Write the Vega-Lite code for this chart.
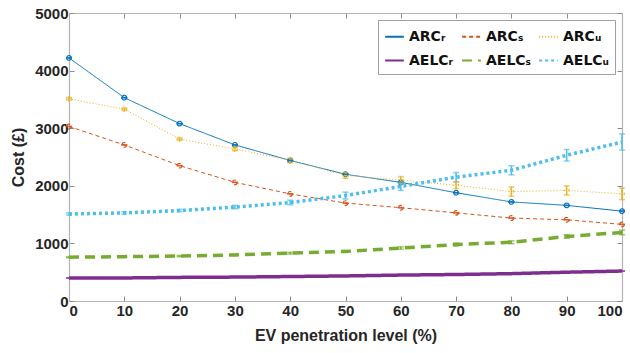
{
  "$schema": "https://vega.github.io/schema/vega-lite/v6.json",
  "width": 553,
  "height": 288,
  "autosize": {"type": "none"},
  "padding": {"left": 69, "top": 13, "right": 8, "bottom": 52},
  "background": "white",
  "config": {
    "view": {"stroke": null},
    "font": "Liberation Sans",
    "axis": {
      "grid": false,
      "domainColor": "#b4b4b4",
      "domainWidth": 1.2,
      "tickColor": "#8c8c8c",
      "tickSize": -5,
      "labelFont": "Liberation Sans",
      "labelFontWeight": "bold",
      "labelFontSize": 15,
      "labelColor": "#262626",
      "titleFont": "Liberation Sans",
      "titleFontWeight": "bold",
      "titleFontSize": 16,
      "titleColor": "#262626"
    },
    "legend": {
      "orient": "top-right",
      "offset": 7,
      "columns": 3,
      "strokeColor": "#a0a0a0",
      "fillColor": "white",
      "padding": 6,
      "labelFont": "DejaVu Sans",
      "labelFontWeight": "bold",
      "labelFontSize": 14,
      "labelColor": "#111",
      "symbolType": "stroke",
      "symbolSize": 350,
      "symbolStrokeWidth": 2,
      "columnPadding": 4,
      "rowPadding": 6
    }
  },
  "data": {
    "values": [
      {"x": 0, "series": "ARC_R", "value": 4220, "lo": 4220, "hi": 4220},
      {"x": 10, "series": "ARC_R", "value": 3530, "lo": 3530, "hi": 3530},
      {"x": 20, "series": "ARC_R", "value": 3080, "lo": 3080, "hi": 3080},
      {"x": 30, "series": "ARC_R", "value": 2710, "lo": 2710, "hi": 2710},
      {"x": 40, "series": "ARC_R", "value": 2440, "lo": 2440, "hi": 2440},
      {"x": 50, "series": "ARC_R", "value": 2200, "lo": 2200, "hi": 2200},
      {"x": 60, "series": "ARC_R", "value": 2060, "lo": 2060, "hi": 2060},
      {"x": 70, "series": "ARC_R", "value": 1880, "lo": 1880, "hi": 1880},
      {"x": 80, "series": "ARC_R", "value": 1720, "lo": 1720, "hi": 1720},
      {"x": 90, "series": "ARC_R", "value": 1660, "lo": 1660, "hi": 1660},
      {"x": 100, "series": "ARC_R", "value": 1560, "lo": 1560, "hi": 1560},
      {"x": 0, "series": "ARC_S", "value": 3030, "lo": 3030, "hi": 3030},
      {"x": 10, "series": "ARC_S", "value": 2710, "lo": 2710, "hi": 2710},
      {"x": 20, "series": "ARC_S", "value": 2350, "lo": 2350, "hi": 2350},
      {"x": 30, "series": "ARC_S", "value": 2060, "lo": 2060, "hi": 2060},
      {"x": 40, "series": "ARC_S", "value": 1860, "lo": 1860, "hi": 1860},
      {"x": 50, "series": "ARC_S", "value": 1700, "lo": 1700, "hi": 1700},
      {"x": 60, "series": "ARC_S", "value": 1620, "lo": 1620, "hi": 1620},
      {"x": 70, "series": "ARC_S", "value": 1530, "lo": 1530, "hi": 1530},
      {"x": 80, "series": "ARC_S", "value": 1440, "lo": 1440, "hi": 1440},
      {"x": 90, "series": "ARC_S", "value": 1410, "lo": 1410, "hi": 1410},
      {"x": 100, "series": "ARC_S", "value": 1330, "lo": 1330, "hi": 1330},
      {"x": 0, "series": "ARC_U", "value": 3510, "lo": 3490, "hi": 3530},
      {"x": 10, "series": "ARC_U", "value": 3330, "lo": 3310, "hi": 3350},
      {"x": 20, "series": "ARC_U", "value": 2810, "lo": 2790, "hi": 2830},
      {"x": 30, "series": "ARC_U", "value": 2640, "lo": 2610, "hi": 2670},
      {"x": 40, "series": "ARC_U", "value": 2440, "lo": 2400, "hi": 2480},
      {"x": 50, "series": "ARC_U", "value": 2180, "lo": 2130, "hi": 2230},
      {"x": 60, "series": "ARC_U", "value": 2100, "lo": 2040, "hi": 2160},
      {"x": 70, "series": "ARC_U", "value": 2010, "lo": 1950, "hi": 2070},
      {"x": 80, "series": "ARC_U", "value": 1900, "lo": 1820, "hi": 1980},
      {"x": 90, "series": "ARC_U", "value": 1920, "lo": 1840, "hi": 2000},
      {"x": 100, "series": "ARC_U", "value": 1860, "lo": 1760, "hi": 1960},
      {"x": 0, "series": "AELC_R", "value": 400, "lo": 400, "hi": 400},
      {"x": 10, "series": "AELC_R", "value": 400, "lo": 400, "hi": 400},
      {"x": 20, "series": "AELC_R", "value": 410, "lo": 410, "hi": 410},
      {"x": 30, "series": "AELC_R", "value": 415, "lo": 415, "hi": 415},
      {"x": 40, "series": "AELC_R", "value": 425, "lo": 425, "hi": 425},
      {"x": 50, "series": "AELC_R", "value": 435, "lo": 435, "hi": 435},
      {"x": 60, "series": "AELC_R", "value": 450, "lo": 450, "hi": 450},
      {"x": 70, "series": "AELC_R", "value": 460, "lo": 460, "hi": 460},
      {"x": 80, "series": "AELC_R", "value": 475, "lo": 475, "hi": 475},
      {"x": 90, "series": "AELC_R", "value": 500, "lo": 500, "hi": 500},
      {"x": 100, "series": "AELC_R", "value": 520, "lo": 520, "hi": 520},
      {"x": 0, "series": "AELC_S", "value": 760, "lo": 750, "hi": 770},
      {"x": 10, "series": "AELC_S", "value": 770, "lo": 760, "hi": 780},
      {"x": 20, "series": "AELC_S", "value": 780, "lo": 770, "hi": 790},
      {"x": 30, "series": "AELC_S", "value": 800, "lo": 790, "hi": 810},
      {"x": 40, "series": "AELC_S", "value": 830, "lo": 815, "hi": 845},
      {"x": 50, "series": "AELC_S", "value": 860, "lo": 845, "hi": 875},
      {"x": 60, "series": "AELC_S", "value": 920, "lo": 900, "hi": 940},
      {"x": 70, "series": "AELC_S", "value": 980, "lo": 955, "hi": 1005},
      {"x": 80, "series": "AELC_S", "value": 1020, "lo": 995, "hi": 1045},
      {"x": 90, "series": "AELC_S", "value": 1120, "lo": 1090, "hi": 1150},
      {"x": 100, "series": "AELC_S", "value": 1190, "lo": 1150, "hi": 1230},
      {"x": 0, "series": "AELC_U", "value": 1510, "lo": 1490, "hi": 1530},
      {"x": 10, "series": "AELC_U", "value": 1530, "lo": 1510, "hi": 1550},
      {"x": 20, "series": "AELC_U", "value": 1570, "lo": 1550, "hi": 1590},
      {"x": 30, "series": "AELC_U", "value": 1630, "lo": 1600, "hi": 1660},
      {"x": 40, "series": "AELC_U", "value": 1710, "lo": 1670, "hi": 1750},
      {"x": 50, "series": "AELC_U", "value": 1830, "lo": 1770, "hi": 1890},
      {"x": 60, "series": "AELC_U", "value": 1990, "lo": 1920, "hi": 2060},
      {"x": 70, "series": "AELC_U", "value": 2150, "lo": 2070, "hi": 2230},
      {"x": 80, "series": "AELC_U", "value": 2270, "lo": 2190, "hi": 2350},
      {"x": 90, "series": "AELC_U", "value": 2530, "lo": 2430, "hi": 2630},
      {"x": 100, "series": "AELC_U", "value": 2760, "lo": 2620, "hi": 2900}
    ]
  },
  "resolve": {"axis": {"x": "independent", "y": "independent"}},
  "encoding": {
    "x": {"field": "x", "type": "quantitative", "scale": {"domain": [0, 100], "nice": false}},
    "color": {
      "field": "series", "type": "nominal",
      "scale": {
        "domain": ["ARC_R", "AELC_R", "ARC_S", "AELC_S", "ARC_U", "AELC_U"],
        "range": ["#0072BD", "#7E2F8E", "#D95319", "#77AC30", "#EDB120", "#4DBEEE"]
      },
      "legend": {
        "title": null,
        "labelExpr": "replace(replace(replace(datum.label, '_R', 'ᵣ'), '_S', 'ₛ'), '_U', 'ᵤ')"
      }
    }
  },
  "layer": [
    {
      "transform": [{"filter": "indexof(datum.series, 'ARC') === 0"}],
      "mark": {"type": "line", "strokeWidth": 1, "point": {"filled": false, "size": 22, "strokeWidth": 1.2}},
      "encoding": {
        "x": {"field": "x", "type": "quantitative", "title": "EV penetration level (%)",
              "axis": {"orient": "bottom", "values": [0,10,20,30,40,50,60,70,80,90,100], "format": "d", "labelPadding": 7, "titlePadding": 9}},
        "y": {"field": "value", "type": "quantitative", "title": "Cost (£)",
              "scale": {"domain": [0, 5000], "nice": false},
              "axis": {"orient": "left", "values": [0,1000,2000,3000,4000,5000], "format": "d", "labelPadding": 6, "titlePadding": 8}},
        "strokeDash": {
          "field": "series", "type": "nominal",
          "scale": {
            "domain": ["ARC_R", "AELC_R", "ARC_S", "AELC_S", "ARC_U", "AELC_U"],
            "range": [[1, 0], [1, 0], [4, 3], [10, 6], [1, 2], [3, 3]]
          },
          "legend": {"title": null}
        }
      }
    },
    {
      "transform": [{"filter": "indexof(datum.series, 'AELC') === 0"}],
      "mark": {"type": "line", "strokeWidth": 3.5},
      "encoding": {
        "x": {"field": "x", "type": "quantitative",
              "axis": {"orient": "top", "labels": false, "title": null, "values": [0,10,20,30,40,50,60,70,80,90,100]}},
        "y": {"field": "value", "type": "quantitative",
              "axis": {"orient": "right", "labels": false, "title": null, "values": [0,1000,2000,3000,4000,5000]}},
        "strokeDash": {"field": "series", "type": "nominal", "legend": {"title": null}}
      }
    },
    {
      "mark": {"type": "rule", "strokeWidth": 1.5},
      "encoding": {
        "x": {"field": "x", "type": "quantitative", "axis": null},
        "y": {"field": "lo", "type": "quantitative", "axis": null},
        "y2": {"field": "hi"}
      }
    },
    {
      "mark": {"type": "tick", "orient": "horizontal", "size": 6, "thickness": 1.5},
      "encoding": {
        "x": {"field": "x", "type": "quantitative", "axis": null},
        "y": {"field": "lo", "type": "quantitative", "axis": null}
      }
    },
    {
      "mark": {"type": "tick", "orient": "horizontal", "size": 6, "thickness": 1.5},
      "encoding": {
        "x": {"field": "x", "type": "quantitative", "axis": null},
        "y": {"field": "hi", "type": "quantitative", "axis": null}
      }
    }
  ]
}
